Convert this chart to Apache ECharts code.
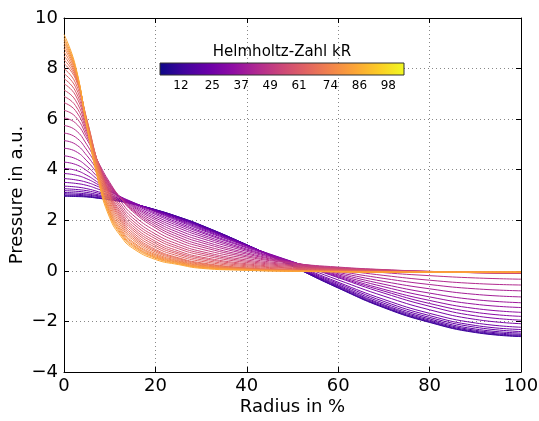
<!DOCTYPE html>
<html>
<head>
<meta charset="utf-8">
<script src="https://cdn.jsdelivr.net/npm/echarts@6/dist/echarts.min.js"></script>
<style>
  html, body { margin: 0; padding: 0; background: #fff; }
  #chart { width: 539px; height: 421px; }
</style>
</head>
<body>
<div id="chart"></div>
<script>
// Radial positions (percent of radius) at which each profile is sampled
const radius = [0, 2.5, 5, 7.5, 10, 12.5, 15, 20, 25, 30, 40, 50, 60, 70, 80, 90, 100];

// Helmholtz number kR of each profile (lowest first)
const helmholtzNumbers = [12, 14, 16, 18, 20, 22, 24, 26, 28, 30, 32, 34, 36, 38, 40, 42, 44, 46, 48,
  50, 52, 54, 56, 58, 60, 62, 64, 66, 68, 70, 72, 74, 76, 78, 80, 82, 84];

// Pressure profiles (a.u.), one row per Helmholtz number, one value per radius
const pressureProfiles = [
  [2.95, 2.94, 2.92, 2.87, 2.81, 2.74, 2.65, 2.42, 2.14, 1.81, 1.03, 0.18, -0.68, -1.46, -2.04, -2.44, -2.60],
  [2.97, 2.96, 2.94, 2.88, 2.82, 2.75, 2.65, 2.42, 2.13, 1.80, 1.03, 0.18, -0.67, -1.44, -2.02, -2.42, -2.58],
  [3.00, 2.99, 2.96, 2.90, 2.83, 2.75, 2.66, 2.41, 2.13, 1.80, 1.03, 0.19, -0.65, -1.42, -1.99, -2.39, -2.55],
  [3.05, 3.03, 3.00, 2.94, 2.86, 2.77, 2.66, 2.41, 2.12, 1.78, 1.02, 0.20, -0.62, -1.38, -1.95, -2.35, -2.51],
  [3.10, 3.08, 3.04, 2.97, 2.88, 2.78, 2.67, 2.40, 2.10, 1.77, 1.02, 0.21, -0.59, -1.34, -1.90, -2.30, -2.46],
  [3.17, 3.15, 3.10, 3.01, 2.91, 2.80, 2.67, 2.39, 2.09, 1.75, 1.01, 0.23, -0.55, -1.28, -1.84, -2.23, -2.40],
  [3.25, 3.22, 3.17, 3.07, 2.95, 2.82, 2.68, 2.38, 2.07, 1.73, 1.01, 0.25, -0.50, -1.21, -1.77, -2.16, -2.32],
  [3.35, 3.32, 3.25, 3.13, 2.99, 2.84, 2.69, 2.37, 2.04, 1.70, 1.00, 0.28, -0.45, -1.13, -1.68, -2.06, -2.23],
  [3.50, 3.46, 3.38, 3.23, 3.06, 2.88, 2.71, 2.35, 2.01, 1.66, 0.99, 0.32, -0.36, -1.00, -1.54, -1.92, -2.09],
  [3.65, 3.60, 3.50, 3.33, 3.13, 2.92, 2.72, 2.33, 1.97, 1.62, 0.98, 0.36, -0.27, -0.88, -1.40, -1.78, -1.95],
  [3.85, 3.79, 3.64, 3.41, 3.16, 2.91, 2.69, 2.28, 1.91, 1.56, 0.94, 0.36, -0.24, -0.80, -1.29, -1.64, -1.80],
  [4.05, 3.98, 3.78, 3.49, 3.19, 2.91, 2.66, 2.23, 1.85, 1.51, 0.91, 0.35, -0.20, -0.73, -1.17, -1.49, -1.64],
  [4.30, 4.21, 3.96, 3.59, 3.23, 2.90, 2.62, 2.16, 1.78, 1.44, 0.86, 0.34, -0.16, -0.63, -1.03, -1.32, -1.45],
  [4.55, 4.44, 4.14, 3.69, 3.27, 2.89, 2.58, 2.09, 1.70, 1.37, 0.82, 0.34, -0.11, -0.53, -0.88, -1.14, -1.26],
  [4.85, 4.73, 4.35, 3.82, 3.32, 2.89, 2.54, 2.02, 1.61, 1.29, 0.77, 0.33, -0.06, -0.42, -0.71, -0.93, -1.03],
  [5.15, 5.01, 4.56, 3.94, 3.36, 2.88, 2.49, 1.94, 1.52, 1.20, 0.71, 0.32, -0.01, -0.30, -0.54, -0.71, -0.79],
  [5.45, 5.29, 4.78, 4.06, 3.41, 2.87, 2.44, 1.86, 1.43, 1.12, 0.66, 0.32, 0.05, -0.18, -0.37, -0.50, -0.56],
  [5.75, 5.57, 4.99, 4.18, 3.45, 2.86, 2.40, 1.78, 1.34, 1.03, 0.60, 0.31, 0.10, -0.07, -0.19, -0.28, -0.33],
  [6.05, 5.85, 5.20, 4.30, 3.50, 2.85, 2.35, 1.70, 1.25, 0.95, 0.55, 0.30, 0.15, 0.05, -0.02, -0.07, -0.10],
  [6.35, 6.10, 5.31, 4.29, 3.41, 2.73, 2.22, 1.58, 1.15, 0.86, 0.49, 0.26, 0.13, 0.04, -0.02, -0.07, -0.09],
  [6.65, 6.34, 5.42, 4.27, 3.32, 2.61, 2.10, 1.46, 1.05, 0.77, 0.43, 0.23, 0.11, 0.03, -0.03, -0.07, -0.09],
  [6.90, 6.54, 5.52, 4.26, 3.24, 2.51, 1.99, 1.36, 0.96, 0.70, 0.38, 0.20, 0.09, 0.02, -0.03, -0.07, -0.08],
  [7.15, 6.75, 5.61, 4.25, 3.17, 2.42, 1.89, 1.27, 0.88, 0.63, 0.33, 0.17, 0.07, 0.01, -0.04, -0.07, -0.08],
  [7.40, 6.95, 5.70, 4.24, 3.09, 2.32, 1.79, 1.17, 0.79, 0.55, 0.28, 0.14, 0.06, 0.00, -0.04, -0.06, -0.08],
  [7.60, 7.11, 5.78, 4.23, 3.03, 2.24, 1.70, 1.09, 0.72, 0.50, 0.24, 0.11, 0.04, -0.01, -0.04, -0.06, -0.07],
  [7.80, 7.28, 5.85, 4.22, 2.97, 2.16, 1.62, 1.01, 0.66, 0.44, 0.20, 0.09, 0.03, -0.02, -0.04, -0.06, -0.07],
  [8.00, 7.44, 5.93, 4.21, 2.91, 2.08, 1.53, 0.93, 0.59, 0.38, 0.16, 0.06, 0.01, -0.02, -0.05, -0.06, -0.06],
  [8.20, 7.60, 6.00, 4.20, 2.85, 2.00, 1.45, 0.85, 0.52, 0.32, 0.12, 0.04, 0.00, -0.03, -0.05, -0.06, -0.06],
  [8.35, 7.67, 5.96, 4.12, 2.75, 1.92, 1.38, 0.80, 0.49, 0.29, 0.11, 0.03, -0.01, -0.03, -0.05, -0.06, -0.06],
  [8.50, 7.74, 5.92, 4.03, 2.66, 1.83, 1.31, 0.75, 0.45, 0.26, 0.09, 0.02, -0.01, -0.04, -0.05, -0.06, -0.06],
  [8.65, 7.80, 5.88, 3.95, 2.56, 1.75, 1.24, 0.69, 0.41, 0.23, 0.08, 0.02, -0.02, -0.04, -0.05, -0.06, -0.06],
  [8.80, 7.87, 5.84, 3.86, 2.46, 1.66, 1.16, 0.64, 0.38, 0.21, 0.07, 0.01, -0.02, -0.04, -0.05, -0.05, -0.05],
  [8.92, 7.93, 5.81, 3.79, 2.38, 1.59, 1.11, 0.60, 0.35, 0.18, 0.06, 0.00, -0.03, -0.04, -0.05, -0.05, -0.05],
  [9.03, 7.98, 5.78, 3.73, 2.31, 1.53, 1.05, 0.56, 0.33, 0.16, 0.05, 0.00, -0.03, -0.04, -0.05, -0.05, -0.05],
  [9.13, 8.02, 5.76, 3.67, 2.24, 1.47, 1.01, 0.53, 0.30, 0.14, 0.04, -0.01, -0.03, -0.05, -0.05, -0.05, -0.05],
  [9.22, 8.06, 5.73, 3.62, 2.19, 1.42, 0.96, 0.50, 0.28, 0.13, 0.03, -0.01, -0.04, -0.05, -0.05, -0.05, -0.05],
  [9.35, 8.12, 5.70, 3.55, 2.10, 1.35, 0.90, 0.45, 0.25, 0.10, 0.02, -0.02, -0.04, -0.05, -0.05, -0.05, -0.05]
];

// Colour bar: kR range covered and the labelled values
const colorbarRange = [3.3, 104.5];
const colorbarTicks = [12, 25, 37, 49, 61, 74, 86, 98];

// Plasma colormap stops
const plasma = ['#0d0887', '#41049d', '#6a00a8', '#8f0da4', '#b12a90', '#cc4778',
  '#e16462', '#f2844b', '#fca636', '#fcce25', '#f0f921'];

function hexToRgb(h) {
  return [parseInt(h.slice(1, 3), 16), parseInt(h.slice(3, 5), 16), parseInt(h.slice(5, 7), 16)];
}
function plasmaColor(t) {
  t = Math.max(0, Math.min(1, t));
  const pos = t * (plasma.length - 1);
  const i = Math.min(Math.floor(pos), plasma.length - 2);
  const f = pos - i;
  const a = hexToRgb(plasma[i]), b = hexToRgb(plasma[i + 1]);
  const c = a.map((v, k) => Math.round(v + (b[k] - v) * f));
  return 'rgb(' + c.join(',') + ')';
}
function kRColor(kR) {
  return plasmaColor((kR - colorbarRange[0]) / (colorbarRange[1] - colorbarRange[0]));
}

const FONT = 'DejaVu Sans';
const minus = v => String(v).replace('-', '\u2212');

const profileSeries = pressureProfiles.map((row, i) => ({
  type: 'line',
  xAxisIndex: 0,
  yAxisIndex: 0,
  name: 'kR ' + helmholtzNumbers[i],
  data: radius.map((r, j) => [r, row[j]]),
  symbol: 'none',
  smooth: 0.5,
  silent: true,
  lineStyle: { width: 1, color: kRColor(helmholtzNumbers[i]) }
}));

const colorbarSeries = {
  type: 'custom',
  xAxisIndex: 1,
  yAxisIndex: 1,
  silent: true,
  clip: false,
  data: [[colorbarRange[0], colorbarRange[1]]],
  renderItem: function (params, api) {
    const lo = api.coord([api.value(0), 0]);
    const hi = api.coord([api.value(1), 1]);
    return {
      type: 'rect',
      shape: { x: lo[0], y: hi[1], width: hi[0] - lo[0], height: lo[1] - hi[1] },
      style: {
        fill: new echarts.graphic.LinearGradient(0, 0, 1, 0,
          plasma.map((c, k) => ({ offset: k / (plasma.length - 1), color: c }))),
        stroke: '#333',
        lineWidth: 1
      }
    };
  }
};

const tickStyle = { inside: true, length: 5, lineStyle: { color: '#000', width: 1 } };
const frameLine = { show: true, onZero: false, lineStyle: { color: '#000', width: 1 } };
const gridLine = { show: true, lineStyle: { color: '#888', width: 1, type: [1, 3] } };
const labelStyle = { color: '#000', fontSize: 18, fontFamily: FONT };
const titleStyle = { color: '#000', fontSize: 18, fontFamily: FONT };

const option = {
  animation: false,
  backgroundColor: '#fff',
  grid: [
    { left: 64, top: 18, width: 457, height: 354, containLabel: false, outerBoundsMode: 'none' },
    { left: 160, top: 63, width: 244, height: 12, containLabel: false, outerBoundsMode: 'none' }
  ],
  xAxis: [
    {
      gridIndex: 0, type: 'value', min: 0, max: 100, interval: 20, position: 'bottom',
      axisLine: frameLine, axisTick: tickStyle, splitLine: gridLine,
      axisLabel: Object.assign({ margin: 5 }, labelStyle),
      name: 'Radius in %', nameLocation: 'middle', nameGap: 26, nameMoveOverlap: false,
      nameTextStyle: titleStyle
    },
    {
      gridIndex: 1, type: 'value', min: colorbarRange[0], max: colorbarRange[1], position: 'bottom',
      axisLine: { show: false }, axisTick: { show: false }, splitLine: { show: false },
      axisLabel: { customValues: colorbarTicks, color: '#000', fontSize: 12, fontFamily: FONT, margin: 5 }
    },
    {
      gridIndex: 1, type: 'value', min: colorbarRange[0], max: colorbarRange[1], position: 'top',
      axisLine: { show: false }, axisTick: { show: false }, splitLine: { show: false },
      axisLabel: { show: false },
      name: 'Helmholtz-Zahl kR', nameLocation: 'middle', nameGap: 3, nameMoveOverlap: false,
      nameTextStyle: { color: '#000', fontSize: 15, fontFamily: FONT }
    },
    {
      gridIndex: 0, type: 'value', min: 0, max: 100, interval: 20, position: 'top',
      axisLine: frameLine, axisTick: tickStyle, splitLine: { show: false },
      axisLabel: { show: false }
    }
  ],
  yAxis: [
    {
      gridIndex: 0, type: 'value', min: -4, max: 10, interval: 2, position: 'left',
      axisLine: frameLine, axisTick: tickStyle, splitLine: gridLine,
      axisLabel: Object.assign({ margin: 6, formatter: minus }, labelStyle),
      name: 'Pressure in a.u.', nameLocation: 'middle', nameRotate: 90, nameGap: 38,
      nameMoveOverlap: false, nameTextStyle: titleStyle
    },
    {
      gridIndex: 1, type: 'value', min: 0, max: 1, show: false
    },
    {
      gridIndex: 0, type: 'value', min: -4, max: 10, interval: 2, position: 'right',
      axisLine: frameLine, axisTick: tickStyle, splitLine: { show: false },
      axisLabel: { show: false }
    }
  ],
  series: profileSeries.concat([colorbarSeries])
};

const chart = echarts.init(document.getElementById('chart'), null, { renderer: 'canvas' });
chart.setOption(option);
</script>
</body>
</html>
